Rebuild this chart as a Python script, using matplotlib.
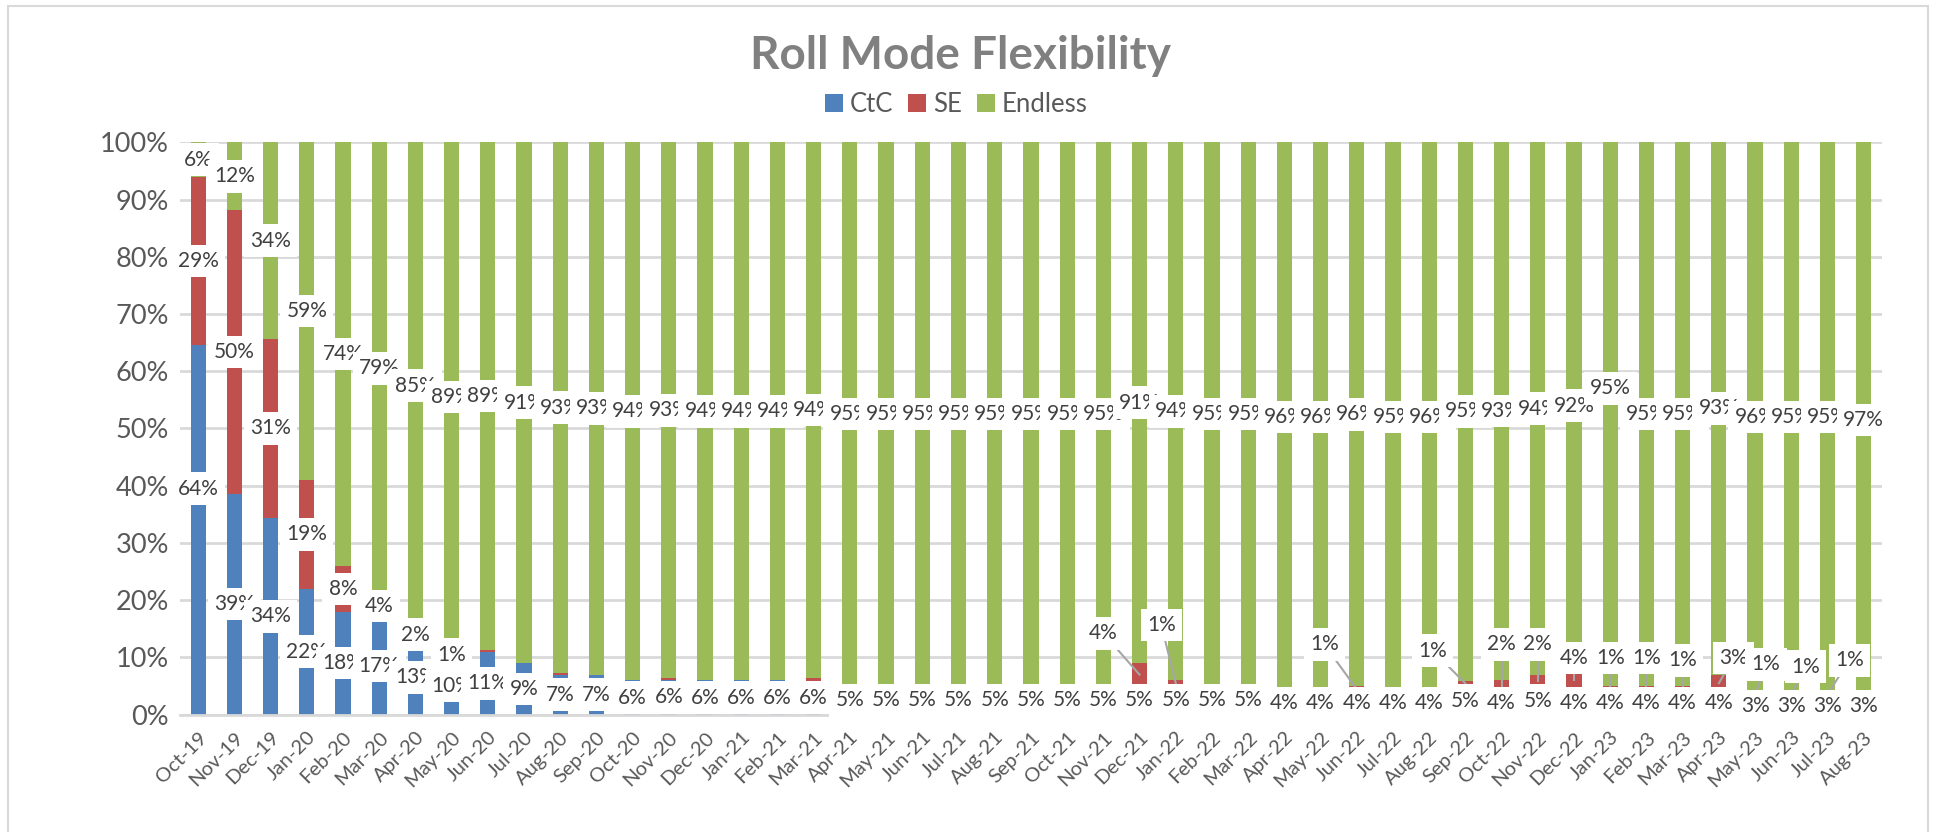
import matplotlib.pyplot as plt
from matplotlib.patches import Rectangle
import numpy as np

plt.rcParams['font.family'] = ['Lato', 'DejaVu Sans']
plt.rcParams['hatch.color'] = '#cfcfcf'
plt.rcParams['hatch.linewidth'] = 1.0

months = ['Oct-19', 'Nov-19', 'Dec-19', 'Jan-20', 'Feb-20', 'Mar-20', 'Apr-20', 'May-20',
          'Jun-20', 'Jul-20', 'Aug-20', 'Sep-20', 'Oct-20', 'Nov-20', 'Dec-20', 'Jan-21',
          'Feb-21', 'Mar-21', 'Apr-21', 'May-21', 'Jun-21', 'Jul-21', 'Aug-21', 'Sep-21',
          'Oct-21', 'Nov-21', 'Dec-21', 'Jan-22', 'Feb-22', 'Mar-22', 'Apr-22', 'May-22',
          'Jun-22', 'Jul-22', 'Aug-22', 'Sep-22', 'Oct-22', 'Nov-22', 'Dec-22', 'Jan-23',
          'Feb-23', 'Mar-23', 'Apr-23', 'May-23', 'Jun-23', 'Jul-23', 'Aug-23']
ctc = [64, 39, 34, 22, 18, 17, 13, 10, 11, 9, 7, 7, 6, 6, 6, 6, 6, 6,
       5, 5, 5, 5, 5, 5, 5, 5, 5, 5, 5, 5, 4, 4, 4, 4, 4, 5, 4, 5, 4, 4, 4, 4, 4, 3, 3, 3, 3]
se = [29, 50, 31, 19, 8, 4, 2, 1, 0.3, 0, 0.3, 0, 0, 0.3, 0, 0, 0, 0.5,
      0, 0, 0, 0, 0, 0, 0, 0, 4, 1, 0, 0, 0, 0, 1, 0, 0, 1, 2, 2, 4, 1, 1, 1, 3, 1, 1, 1, 0]
endless = [6, 12, 34, 59, 74, 79, 85, 89, 89, 91, 93, 93, 94, 93, 94, 94, 94, 94,
           95, 95, 95, 95, 95, 95, 95, 95, 91, 94, 95, 95, 96, 96, 96, 95, 96, 95, 93, 94,
           92, 95, 95, 95, 93, 96, 95, 95, 97]

# SE labels that were dragged away from their bars: index -> (label x, label y)
se_label_at = {26: (25.0, 14.2), 27: (26.6, 15.7), 32: (31.1, 12.3), 35: (34.1, 11.2),
               36: (36.0, 12.3), 37: (37.0, 12.3), 38: (38.0, 9.9), 39: (39.0, 9.9),
               40: (40.0, 9.9), 41: (41.0, 9.5), 42: (42.4, 9.9), 43: (43.3, 8.8),
               44: (44.4, 8.4), 45: (45.6, 9.5)}
ctc_label_y = {0: 39.5}
end_label_y = {39: 57.0}

C_CTC, C_SE, C_END = '#4f81bd', '#c0504d', '#9bbb59'
GREY = '#595959'

x = np.arange(len(months))
raw = np.array([ctc, se, endless], dtype=float)
pct = raw / raw.sum(axis=0) * 100
b1 = pct[0]
b2 = b1 + pct[1]

fig = plt.figure(figsize=(19.36, 8.32), dpi=100)
fig.patches.append(Rectangle((0.004, -0.05), 0.992, 1.043, transform=fig.transFigure,
                             fill=False, ec='#d9d9d9', lw=1.5))
ax = fig.add_axes([0.093, 0.141, 0.879, 0.688])

ax.add_patch(Rectangle((0, 0), 1, 1, transform=ax.transAxes, fc='white',
                       ec='none', hatch='\\\\\\\\', zorder=0))
w = 0.42
ax.bar(x, pct[0], w, color=C_CTC, label='CtC', zorder=2)
ax.bar(x, pct[1], w, bottom=b1, color=C_SE, label='SE', zorder=2)
ax.bar(x, pct[2], w, bottom=b2, color=C_END, label='Endless', zorder=2)

ax.set_xlim(-0.5, len(months) - 0.5)
ax.set_ylim(0, 100)
ax.set_yticks(np.arange(0, 101, 10))
ax.set_yticklabels([f'{v}%' for v in range(0, 101, 10)])
ax.set_xticks(x)
ax.set_xticklabels(months, rotation=45, ha='right', rotation_mode='anchor')
ax.tick_params(axis='both', length=0, colors=GREY)
ax.tick_params(axis='y', labelsize=19.5, pad=8)
ax.tick_params(axis='x', labelsize=14.5, pad=10)
ax.yaxis.grid(True, color='#d9d9d9', lw=2, zorder=1)
ax.set_axisbelow(True)
for s in ['left', 'right', 'top']:
    ax.spines[s].set_visible(False)
ax.spines['bottom'].set_color('#d9d9d9')
ax.spines['bottom'].set_linewidth(2)

box = dict(boxstyle='square,pad=0.3', fc='white', ec='none')


def put(xp, yp, txt, z):
    ax.text(xp, yp, txt, ha='center', va='center', fontsize=15, color='#404040',
            bbox=box, zorder=z, clip_on=False)


for i in range(len(months)):
    put(i, ctc_label_y.get(i, b1[i] / 2), f'{ctc[i]}%', 5 + i * 0.001)
for i in range(len(months)):
    if round(se[i]) < 1:
        continue
    if i in se_label_at:
        lx, ly = se_label_at[i]
        ax.plot([lx, i], [ly, (b1[i] + b2[i]) / 2], color='#a6a6a6', lw=1.5, zorder=4)
    else:
        lx, ly = i, (b1[i] + b2[i]) / 2
    put(lx, ly, f'{se[i]:.0f}%', 6 + i * 0.001)
for i in range(len(months)):
    put(i, end_label_y.get(i, (b2[i] + 100) / 2), f'{endless[i]}%', 7 + i * 0.001)

fig.text(0.496, 0.933, 'Roll Mode Flexibility', ha='center', va='center',
         fontsize=33, fontweight='bold', color='#808080')
fig.legend(loc='center', bbox_to_anchor=(0.494, 0.874), ncol=3, frameon=False,
           fontsize=18.5, handlelength=0.7, handleheight=0.7, handletextpad=0.25,
           columnspacing=0.6, labelcolor=GREY)

fig.savefig('out.png', dpi=100)
